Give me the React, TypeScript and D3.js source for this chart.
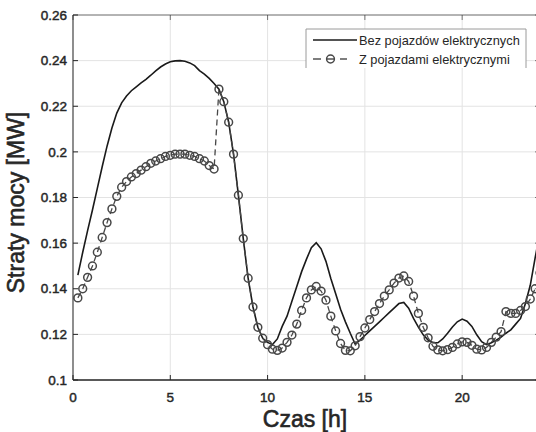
import React from "react";
import * as d3 from "d3";

const hours: number[] = Array.from({ length: 96 }, (_, i) => (i + 1) * 0.25);

const bezEV: number[] = [
  0.146, 0.156, 0.1655, 0.1745, 0.184, 0.1935, 0.2025, 0.2105,
  0.217, 0.2215, 0.2245, 0.2268, 0.2285, 0.2302, 0.2318, 0.2336,
  0.2355, 0.2372, 0.2385, 0.2395, 0.2399, 0.24, 0.2397, 0.239,
  0.2378, 0.2356, 0.2341, 0.2322, 0.23, 0.2275, 0.222, 0.213,
  0.199, 0.181, 0.162, 0.1446, 0.132, 0.1231, 0.1183, 0.1165,
  0.1155, 0.118, 0.1235, 0.128, 0.1345, 0.141, 0.1475, 0.153,
  0.158, 0.1602, 0.1575, 0.152, 0.1445, 0.1378, 0.131, 0.1255,
  0.1205, 0.1158, 0.1175, 0.1195, 0.1215, 0.1235, 0.1255, 0.1275,
  0.1295, 0.1315, 0.1335, 0.134, 0.1315, 0.127, 0.1232, 0.1198,
  0.1175, 0.1163, 0.1163, 0.118, 0.1205, 0.1232, 0.1255, 0.1267,
  0.1258, 0.1235, 0.1198, 0.1168, 0.1155, 0.1163, 0.1175, 0.1188,
  0.1205, 0.122, 0.1245, 0.127, 0.1335, 0.1415, 0.1535, 0.165,
];

const zEV: number[] = [
  0.136, 0.14, 0.145, 0.15, 0.156, 0.1625, 0.169, 0.175,
  0.1805, 0.1845, 0.187, 0.189, 0.1905, 0.192, 0.1935, 0.195,
  0.196, 0.197, 0.198, 0.1985, 0.199, 0.199, 0.199, 0.1985,
  0.198, 0.197, 0.196, 0.194, 0.1925, 0.2275, 0.222, 0.213,
  0.199, 0.181, 0.162, 0.1446, 0.132, 0.1231, 0.1183, 0.1155,
  0.1135, 0.113, 0.114, 0.1165, 0.1197, 0.1245, 0.1305, 0.136,
  0.1395, 0.141, 0.139, 0.135, 0.128, 0.1215, 0.116, 0.113,
  0.1128, 0.115, 0.119, 0.1228, 0.1265, 0.13, 0.1335, 0.1368,
  0.1395, 0.1425, 0.1447, 0.1456, 0.1432, 0.1368, 0.1292, 0.1231,
  0.1185, 0.1148, 0.1132, 0.1128, 0.1133, 0.1143, 0.1158, 0.1167,
  0.1165, 0.1152, 0.1135, 0.1132, 0.1143, 0.1165, 0.1188, 0.1212,
  0.13, 0.1292, 0.1292, 0.1305, 0.1322, 0.1355, 0.14, 0.147,
];

const xTicks: number[] = [0, 5, 10, 15, 20];
const xTickLabels: string[] = ["0", "5", "10", "15", "20"];
const yTicks: number[] = [0.1, 0.12, 0.14, 0.16, 0.18, 0.2, 0.22, 0.24, 0.26];
const yTickLabels: string[] = ["0.1", "0.12", "0.14", "0.16", "0.18", "0.2", "0.22", "0.24", "0.26"];
const legendLabels: string[] = ["Bez pojazdów elektrycznych", "Z pojazdami elektrycznymi"];
const xLabel = "Czas [h]";
const yLabel = "Straty mocy [MW]";

const W = 536;
const H = 432;
const FONT = "'Liberation Sans', Arial, Helvetica, sans-serif";

export default function App() {
  const x = d3.scaleLinear().domain([0, 24]).range([73, 540]);
  const y = d3.scaleLinear().domain([0.1, 0.26]).range([380, 15]);
  const [x0, x1] = x.range();
  const [yb, yt] = y.range();

  const line = d3
    .line<number>()
    .x((_, i) => x(hours[i]))
    .y((d) => y(d));

  const axisColor = "#262626";
  const gridColor = "#e3e3e3";
  const markColor = "#474747";

  return (
    <svg
      width={W}
      height={H}
      style={{ position: "absolute", left: 0, top: 0, background: "#fff" }}
      fontFamily={FONT}
    >
      <rect x={0} y={0} width={W} height={H} fill="#fff" />
      {xTicks.map((t) => (
        <line key={"gx" + t} x1={x(t)} x2={x(t)} y1={yt} y2={yb} stroke={gridColor} strokeWidth={1} />
      ))}
      {yTicks.map((t) => (
        <line key={"gy" + t} x1={x0} x2={x1} y1={y(t)} y2={y(t)} stroke={gridColor} strokeWidth={1} />
      ))}
      <path d={line(bezEV) || ""} fill="none" stroke="#1a1a1a" strokeWidth={1.6} />
      <path d={line(zEV) || ""} fill="none" stroke={markColor} strokeWidth={1.3} strokeDasharray="6,4" />
      {zEV.map((v, i) => (
        <circle key={"m" + i} cx={x(hours[i])} cy={y(v)} r={3.9} fill="none" stroke={markColor} strokeWidth={1.5} />
      ))}
      <line x1={x0} x2={x1} y1={yt} y2={yt} stroke={axisColor} strokeWidth={1} opacity={0.6} />
      <line x1={x1} x2={x1} y1={yt} y2={yb} stroke={axisColor} strokeWidth={1} opacity={0.6} />
      <line x1={x0} x2={x1} y1={yb} y2={yb} stroke={axisColor} strokeWidth={1.3} />
      <line x1={x0} x2={x0} y1={yt} y2={yb} stroke={axisColor} strokeWidth={1.3} opacity={0.75} />
      {xTicks.map((t) => (
        <g key={"tx" + t}>
          <line x1={x(t)} x2={x(t)} y1={yb} y2={yb - 5} stroke={axisColor} />
          <line x1={x(t)} x2={x(t)} y1={yt} y2={yt + 5} stroke={axisColor} opacity={0.6} />
        </g>
      ))}
      {yTicks.map((t) => (
        <g key={"ty" + t}>
          <line x1={x0} x2={x0 + 5} y1={y(t)} y2={y(t)} stroke={axisColor} />
          <line x1={x1} x2={x1 - 5} y1={y(t)} y2={y(t)} stroke={axisColor} opacity={0.6} />
        </g>
      ))}
      {xTicks.map((t, i) => (
        <text
          key={"lx" + t}
          x={x(t)}
          y={402}
          textAnchor="middle"
          fontSize={13.5}
          fill={axisColor}
          stroke={axisColor}
          strokeWidth={0.45}
        >
          {xTickLabels[i]}
        </text>
      ))}
      {yTicks.map((t, i) => (
        <text
          key={"ly" + t}
          x={67}
          y={y(t) + 4.7}
          textAnchor="end"
          fontSize={13.5}
          fill={axisColor}
          stroke={axisColor}
          strokeWidth={0.45}
        >
          {yTickLabels[i]}
        </text>
      ))}
      <text
        x={305}
        y={427}
        textAnchor="middle"
        fontSize={23}
        fill={axisColor}
        stroke={axisColor}
        strokeWidth={0.6}
      >
        {xLabel}
      </text>
      <text
        transform={`translate(24,${(yt + yb) / 2 + 5}) rotate(-90)`}
        textAnchor="middle"
        fontSize={23}
        fill={axisColor}
        stroke={axisColor}
        strokeWidth={0.6}
      >
        {yLabel}
      </text>
      <rect x={306} y={29} width={220} height={39} fill="#fff" />
      <path d="M306,68 V29 H526 V68" fill="none" stroke="#9a9a9a" strokeWidth={1} />
      <line x1={313} x2={357} y1={40} y2={40} stroke="#1a1a1a" strokeWidth={1.6} />
      <text x={359} y={44.5} fontSize={12.8} fill="#262626">
        {legendLabels[0]}
      </text>
      <line x1={313} x2={321} y1={59} y2={59} stroke={markColor} strokeWidth={1.4} />
      <line x1={327} x2={334} y1={59} y2={59} stroke={markColor} strokeWidth={1.4} />
      <circle cx={330.5} cy={59} r={3.9} fill="none" stroke={markColor} strokeWidth={1.5} />
      <line x1={340} x2={347} y1={59} y2={59} stroke={markColor} strokeWidth={1.4} />
      <text x={359} y={63.5} fontSize={12.8} fill="#262626">
        {legendLabels[1]}
      </text>
    </svg>
  );
}
